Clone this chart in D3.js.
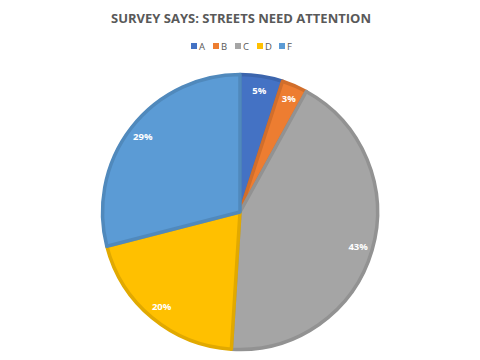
<!DOCTYPE html>
<html>
<head>
<meta charset="utf-8">
<script src="https://cdn.jsdelivr.net/npm/d3@7"></script>
<style>
  body { margin: 0; background: #fff; }
  svg { display: block; }
</style>
</head>
<body>
<svg id="chart" width="480" height="360"></svg>
<script>
// datos del gráfico
var categorias = ["A", "B", "C", "D", "F"];
var valores = [5, 3, 43, 20, 29];
var colores = ["#4472C4", "#ED7D31", "#A5A5A5", "#FFC000", "#5B9BD5"];
var titulo = "SURVEY SAYS: STREETS NEED ATTENTION";

var width = 480, height = 360;
var cx = 240, cy = 212, radio = 139;

var svg = d3.select("#chart");

svg.append("text")
    .attr("x", width / 2 + 1)
    .attr("y", 23)
    .attr("text-anchor", "middle")
    .style("font-family", "'Open Sans', sans-serif")
    .style("font-weight", "bold")
    .style("font-size", "13px")
    .style("fill", "#595959")
    .text(titulo);

// leyenda
var color = d3.scaleOrdinal().domain(categorias).range(colores);
var leyenda = svg.append("g").attr("transform", "translate(191,43)");
var item = leyenda.selectAll("g")
    .data(categorias)
    .enter().append("g")
    .attr("transform", function (d, i) { return "translate(" + (i * 22) + ",0)"; });
item.append("rect")
    .attr("width", 6)
    .attr("height", 6)
    .attr("fill", function (d) { return color(d); });
item.append("text")
    .attr("x", 8)
    .attr("y", 6.5)
    .style("font-family", "'Open Sans', sans-serif")
    .style("font-size", "9.5px")
    .style("fill", "#595959")
    .text(function (d) { return d; });

// tarta
var pie = d3.pie().sort(null).value(function (d) { return d; });
var arcos = pie(valores);
var arco = d3.arc().innerRadius(0).outerRadius(radio - 1.5);
var arcoEtiqueta = d3.arc().innerRadius(123).outerRadius(123);

var g = svg.append("g").attr("transform", "translate(" + cx + "," + cy + ")");

g.selectAll("path")
    .data(arcos)
    .enter().append("path")
    .attr("d", arco)
    .attr("fill", function (d, i) { return colores[i]; })
    .attr("stroke", function (d, i) { return d3.color(colores[i]).darker(0.35); })
    .attr("stroke-width", 3.5)
    .attr("stroke-linejoin", "round");

g.selectAll("text.etiqueta")
    .data(arcos)
    .enter().append("text")
    .attr("class", "etiqueta")
    .attr("transform", function (d) { return "translate(" + arcoEtiqueta.centroid(d) + ")"; })
    .attr("dy", "0.35em")
    .attr("text-anchor", "middle")
    .style("font-family", "'Open Sans', sans-serif")
    .style("font-weight", "bold")
    .style("font-size", "9.5px")
    .style("fill", "#fff")
    .text(function (d) { return d.data + "%"; });
</script>
</body>
</html>
